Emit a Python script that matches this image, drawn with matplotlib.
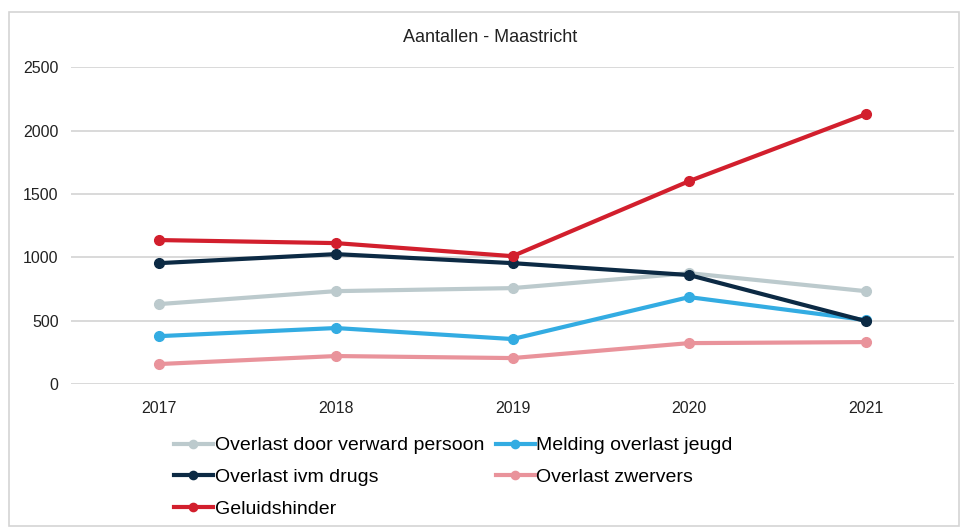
import numpy as np
import matplotlib.pyplot as plt
from matplotlib.patches import Rectangle

plt.rcParams['font.family'] = ['Liberation Sans', 'DejaVu Sans']

# data
years = ['2017', '2018', '2019', '2020', '2021']
verward = [631, 733, 757, 875, 733]
jeugd = [378, 442, 355, 686, 505]
drugs = [954, 1025, 954, 860, 497]
zwervers = [158, 221, 205, 323, 331]
geluid = [1136, 1112, 1009, 1601, 2129]

series = [
    ('Overlast door verward persoon', verward, '#bccacd'),
    ('Melding overlast jeugd', jeugd, '#33ace2'),
    ('Overlast ivm drugs', drugs, '#0c2a44'),
    ('Overlast zwervers', zwervers, '#e9939b'),
    ('Geluidshinder', geluid, '#d21f2d'),
]

fig = plt.figure(figsize=(9.65, 5.29), dpi=100)
fig.patches.append(Rectangle((0.009, 0.006), 0.985, 0.972, transform=fig.transFigure,
                             fill=False, edgecolor='#d4d4d4', linewidth=1.2))
ax = fig.add_axes([0.0736, 0.274, 0.915, 0.599])

x = np.arange(len(years))
lines = {}
for name, vals, col in series:
    ln, = ax.plot(x, vals, color=col, linewidth=3, marker='o', markersize=7,
                  label=name, zorder=3)
    lines[name] = ln

ax.set_xlim(-0.5, 4.5)
ax.set_ylim(0, 2500)
ax.set_yticks(np.arange(0, 2501, 500))
ax.set_xticks(x)
ax.set_xticklabels(years)
ax.grid(axis='y', color='#d3d3d3', linewidth=1.2)
ax.set_axisbelow(True)
for s in ax.spines.values():
    s.set_visible(False)
ax.tick_params(length=0, labelsize=11.5, colors='#222222')
ax.tick_params(axis='x', pad=12)
ax.tick_params(axis='y', pad=9)

fig.text(0.508, 0.93, 'Aantallen - Maastricht', ha='center', va='center',
         fontsize=13, color='#222222')

# legend fills column by column, so reorder to get the row layout
order = ['Overlast door verward persoon', 'Overlast ivm drugs', 'Geluidshinder',
         'Melding overlast jeugd', 'Overlast zwervers']
fig.legend([lines[n] for n in order], order, ncol=2, loc='upper left',
           bbox_to_anchor=(0.172, 0.189), frameon=False, fontsize=14,
           handlelength=2.0, handletextpad=0.1, columnspacing=0.6,
           labelspacing=0.72, markerscale=0.85, borderaxespad=0)

fig.savefig('out.png', dpi=100)
